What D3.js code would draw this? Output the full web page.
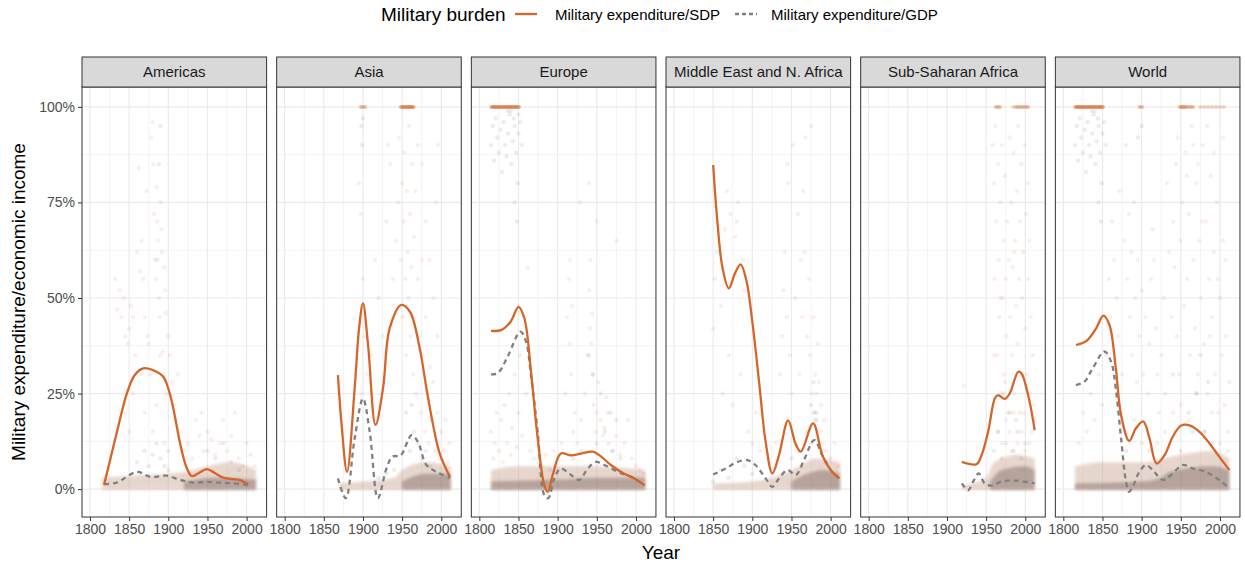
<!DOCTYPE html>
<html><head><meta charset="utf-8">
<script src="https://cdn.jsdelivr.net/npm/d3@7"></script>
<style>body{margin:0;background:#fff}svg{display:block;font-family:"Liberation Sans",Arial,sans-serif}</style>
</head><body><svg id="c" width="1245" height="565"></svg>
<script>
// ---------- data ----------
const panelNames = ["Americas","Asia","Europe","Middle East and N. Africa","Sub-Saharan Africa","World"];
const xTicks = [1800,1850,1900,1950,2000];
const xMinor = [1825,1875,1925,1975];
const yTicks = [0,0.25,0.5,0.75,1];
const yTickLabels = ["0%","25%","50%","75%","100%"];
const yMinor = [0.125,0.375,0.625,0.875];
const seriesNames = ["Military expenditure/SDP","Military expenditure/GDP"];

// smoothed lines [year, share]
const sdpAmericas = [[1818,0.011],[1834,0.146],[1847,0.25],[1857,0.298],[1868,0.316],[1885,0.307],[1893.6,0.294],[1900,0.263],[1906,0.215],[1915,0.12],[1923,0.058],[1930,0.034],[1938,0.041],[1949,0.052],[1957,0.045],[1970,0.03],[1983,0.026],[1991.5,0.0236],[2002,0.013]];
const gdpAmericas = [[1818,0.013],[1834,0.017],[1860,0.045],[1877,0.032],[1898,0.035],[1915,0.024],[1932,0.017],[1949,0.019],[1966,0.017],[1983,0.015],[2002,0.0105]];
const sdpAsia = [[1868,0.298],[1872.4,0.176],[1879.6,0.045],[1889.4,0.264],[1895,0.42],[1900,0.486],[1906.5,0.377],[1916,0.168],[1925.6,0.264],[1934,0.42],[1949,0.482],[1960,0.464],[1972.5,0.368],[1981,0.264],[1989.5,0.168],[1998,0.093],[2011,0.032]];
const gdpAsia = [[1868,0.028],[1878,-0.024],[1889.4,0.133],[1900,0.237],[1908.6,0.15],[1919,-0.024],[1930,0.054],[1937.6,0.085],[1948,0.088],[1962,0.141],[1970,0.124],[1981,0.063],[1994,0.045],[2011,0.028]];
const sdpEurope = [[1815,0.414],[1827.7,0.416],[1840,0.438],[1850,0.477],[1857.5,0.447],[1866,0.307],[1874.5,0.133],[1883,0.01],[1887.3,-0.007],[1893.7,0.037],[1904,0.093],[1917,0.088],[1930,0.093],[1945,0.098],[1955.5,0.085],[1968,0.063],[1985,0.04],[1998,0.028],[2011,0.01]];
const gdpEurope = [[1815,0.30],[1823.4,0.303],[1836,0.346],[1852.4,0.412],[1859.6,0.386],[1866,0.297],[1874.5,0.15],[1883,-0.016],[1888,-0.024],[1895.8,0.028],[1904,0.054],[1917,0.037],[1927.8,0.024],[1938.4,0.054],[1949,0.071],[1959.7,0.063],[1976.7,0.045],[1993.8,0.032],[2011,0.01]];
const sdpMENA = [[1850,0.848],[1855.4,0.70],[1862,0.578],[1870,0.525],[1878,0.565],[1885,0.588],[1892.5,0.545],[1900,0.438],[1908.6,0.281],[1917,0.124],[1925.6,0.041],[1934,0.088],[1945.7,0.18],[1955.5,0.117],[1962,0.098],[1977.6,0.172],[1989.5,0.088],[2000,0.05],[2011,0.028]];
const gdpMENA = [[1850,0.038],[1866,0.054],[1881,0.071],[1893.7,0.076],[1904,0.063],[1917,0.028],[1925.6,0.006],[1934,0.028],[1945,0.05],[1955.5,0.037],[1966,0.076],[1979,0.128],[1989.5,0.088],[2002,0.045],[2011,0.028]];
const sdpSSA = [[1919,0.071],[1937.6,0.065],[1944,0.088],[1952.5,0.15],[1961,0.237],[1965,0.246],[1973.8,0.236],[1980,0.25],[1991,0.307],[1995,0.303],[2003.6,0.246],[2012,0.154]];
const gdpSSA = [[1919,0.015],[1927,-0.003],[1934.6,0.024],[1940.5,0.041],[1948,0.015],[1956.7,0.009],[1969.5,0.02],[1986.5,0.022],[2012,0.015]];
const sdpWorld = [[1816,0.377],[1829,0.387],[1841.7,0.42],[1851,0.454],[1858.8,0.43],[1867,0.316],[1873.7,0.194],[1884,0.126],[1892.7,0.159],[1902,0.177],[1910,0.133],[1919,0.067],[1929,0.088],[1939.7,0.137],[1950,0.166],[1961,0.167],[1973.8,0.15],[1986.5,0.12],[1999,0.085],[2012,0.05]];
const gdpWorld = [[1816,0.272],[1827,0.281],[1837.5,0.316],[1852.4,0.36],[1861,0.333],[1867,0.262],[1873.7,0.133],[1880,0.02],[1884,-0.007],[1888.6,0.006],[1897,0.045],[1905.6,0.063],[1914,0.05],[1927,0.024],[1937.6,0.037],[1952.5,0.063],[1965,0.054],[1982,0.045],[1999,0.024],[2012,0.002]];

// years whose observed SDP share is capped at 100%
const capEurope = [1815,1816,1817,1818,1819,1820,1821,1822,1823,1824,1825,1826,1827,1828,1829,1830,1831,1832,1833,1834,1835,1836,1837,1838,1839,1840,1841,1842,1843,1844,1845,1846,1847,1848,1849,1850,1851];
const capWorld = [1815,1816,1817,1818,1819,1820,1821,1822,1823,1824,1825,1826,1827,1828,1829,1830,1831,1832,1833,1834,1835,1836,1837,1838,1839,1840,1841,1842,1843,1844,1845,1846,1847,1848,1849,1850,1851,1897,1899,1901,1948,1950,1951,1952,1954,1955,1956,1958,1960,1962,1964,1966,1975,1980,1985,1990,1995,2000,2005];
const capAsia = [1897,1899,1901,1903,1948,1949,1950,1951,1952,1953,1954,1955,1956,1957,1958,1959,1960,1961,1962,1963,1964,1965];
const capSSA = [1962,1964,1966,1968,1985,1988,1990,1992,1994,1996,1998,2000,2002,2004];
const capNone = [];

// observation clouds (sparse, read approximately) [year, share]
const obsSdpAmericas = [[1832,0.55],[1835,0.47],[1838,0.52],[1840,0.45],[1843,0.5],[1845,0.4],[1848,0.38],[1850,0.42],[1852,0.48],[1855,0.45],[1858,0.35],[1860,0.62],[1862,0.84],[1864,0.57],[1866,0.65],[1868,0.55],[1870,0.45],[1872,0.78],[1874,0.4],[1875,0.38],[1877,0.3],[1878,0.92],[1880,0.96],[1881,0.85],[1882,0.72],[1883,0.6],[1884,0.55],[1885,0.79],[1886,0.7],[1887,0.65],[1888,0.5],[1889,0.45],[1890,0.75],[1891,0.68],[1892,0.62],[1893,0.36],[1894,0.3],[1895,0.58],[1896,0.52],[1897,0.46],[1898,0.25],[1900,0.4],[1902,0.35],[1905,0.28],[1908,0.22],[1910,0.18],[1912,0.3],[1915,0.15],[1920,0.1],[1925,0.12],[1930,0.08],[1935,0.18],[1940,0.14],[1942,0.2],[1945,0.1],[1950,0.15],[1955,0.13],[1960,0.09],[1965,0.12],[1970,0.18],[1975,0.1],[1980,0.14],[1985,0.2],[1990,0.08],[1995,0.06],[2000,0.12],[2005,0.09],[2010,0.06],[1845,0.2],[1850,0.15],[1855,0.25],[1865,0.3],[1870,0.2],[1880,0.15],[1885,0.22],[1890,0.35],[1895,0.12],[1900,0.1]];
const obsGdpAmericas = [[1860,0.07],[1870,0.1],[1875,0.06],[1880,0.09],[1885,0.12],[1890,0.08],[1895,0.06],[1900,0.05],[1950,0.1],[1960,0.08],[1970,0.12],[1980,0.07],[1990,0.05],[1888,0.85],[1890,0.95],[1886,0.6]];
const obsSdpAsia = [[1895,0.8],[1897,0.72],[1898,0.25],[1900,0.55],[1902,0.4],[1905,0.3],[1910,0.35],[1915,0.6],[1920,0.5],[1925,0.4],[1930,0.7],[1932,0.9],[1935,0.85],[1938,0.55],[1940,0.48],[1942,0.65],[1945,0.75],[1946,0.92],[1948,0.6],[1950,0.8],[1951,0.45],[1952,0.7],[1953,0.88],[1954,0.55],[1955,0.35],[1956,0.78],[1957,0.62],[1958,0.5],[1959,0.95],[1960,0.72],[1961,0.4],[1962,0.58],[1963,0.85],[1964,0.3],[1965,0.66],[1966,0.45],[1967,0.78],[1968,0.25],[1970,0.55],[1972,0.4],[1974,0.2],[1975,0.6],[1977,0.35],[1979,0.15],[1980,0.45],[1982,0.25],[1984,0.12],[1985,0.32],[1988,0.18],[1990,0.28],[1992,0.1],[1995,0.2],[1998,0.08],[2000,0.15],[2003,0.1],[2005,0.18],[2008,0.07],[2010,0.12],[1970,0.9],[1975,0.85],[1980,0.7],[1985,0.6],[1990,0.5],[1995,0.4],[1996,0.9],[1993,0.75]];
const obsGdpAsia = [[1898,0.95],[1899,0.9],[1900,0.97],[1960,0.1],[1965,0.15],[1970,0.12],[1975,0.08],[1980,0.1],[1985,0.06],[1955,0.2],[1962,0.22],[1940,0.05],[1930,0.04],[1920,0.03]];
const obsSdpEurope = [[1815,0.15],[1818,0.08],[1820,0.12],[1822,0.2],[1825,0.1],[1828,0.18],[1830,0.07],[1832,0.22],[1835,0.12],[1838,0.25],[1840,0.09],[1842,0.16],[1845,0.3],[1848,0.11],[1850,0.2],[1852,0.35],[1855,0.14],[1858,0.45],[1860,0.25],[1862,0.58],[1865,0.1],[1870,0.08],[1875,0.12],[1880,0.06],[1885,0.09],[1890,0.05],[1895,0.1],[1900,0.08],[1905,0.12],[1910,0.25],[1912,0.45],[1914,0.55],[1915,0.38],[1916,0.6],[1917,0.3],[1918,0.48],[1920,0.15],[1922,0.2],[1925,0.12],[1930,0.18],[1935,0.25],[1938,0.35],[1940,0.52],[1941,0.42],[1942,0.6],[1943,0.38],[1944,0.46],[1945,0.3],[1946,0.22],[1948,0.15],[1950,0.2],[1952,0.28],[1955,0.18],[1958,0.14],[1960,0.16],[1962,0.24],[1965,0.12],[1968,0.2],[1970,0.1],[1975,0.14],[1980,0.09],[1985,0.12],[1990,0.18],[1995,0.08],[2000,0.06],[2005,0.05],[2010,0.04],[1940,0.8],[1928,0.75],[1975,0.65],[1950,0.7]];
const obsGdpEurope = [[1815,0.9],[1817,0.95],[1819,0.86],[1821,0.97],[1823,0.92],[1825,0.88],[1827,0.94],[1829,0.83],[1831,0.96],[1833,0.9],[1835,0.87],[1837,0.93],[1839,0.98],[1841,0.85],[1843,0.91],[1845,0.95],[1847,0.88],[1849,0.8],[1850,0.93],[1852,0.96],[1854,0.9],[1845,0.75],[1848,0.7],[1840,0.99],[1844,0.97],[1836,0.99],[1850,0.98],[1940,0.35],[1950,0.12],[1960,0.15],[1970,0.1],[1980,0.08],[1965,0.2],[1955,0.25],[1975,0.18],[1945,0.3],[1930,0.1],[1920,0.08]];
const obsSdpMENA = [[1850,0.42],[1852,0.55],[1855,0.62],[1860,0.48],[1862,0.25],[1865,0.68],[1868,0.78],[1870,0.35],[1872,0.72],[1875,0.22],[1878,0.66],[1880,0.7],[1882,0.75],[1885,0.3],[1888,0.6],[1890,0.52],[1895,0.15],[1900,0.12],[1905,0.2],[1910,0.1],[1920,0.08],[1930,0.12],[1935,0.3],[1938,0.4],[1940,0.52],[1942,0.62],[1944,0.45],[1945,0.85],[1946,0.8],[1948,0.35],[1950,0.25],[1952,0.9],[1955,0.5],[1958,0.72],[1960,0.3],[1962,0.6],[1964,0.45],[1965,0.78],[1967,0.62],[1968,0.92],[1970,0.4],[1972,0.55],[1974,0.35],[1975,0.95],[1976,0.25],[1978,0.45],[1980,0.3],[1982,0.2],[1984,0.38],[1985,0.28],[1987,0.15],[1988,0.22],[1990,0.12],[1992,0.18],[1995,0.1],[2000,0.08],[2005,0.12],[2010,0.06],[1978,0.2],[1980,0.18],[1982,0.25]];
const obsGdpMENA = [[1850,0.02],[1860,0.05],[1870,0.03],[1880,0.08],[1890,0.06],[1900,0.04],[1950,0.08],[1960,0.1],[1970,0.15],[1975,0.22],[1978,0.28],[1980,0.2],[1982,0.18],[1985,0.12],[1990,0.1],[1976,0.12]];
const obsSdpSSA = [[1958,0.9],[1960,0.8],[1961,0.55],[1962,0.95],[1963,0.7],[1964,0.35],[1965,0.85],[1966,0.6],[1967,0.45],[1968,0.75],[1969,0.25],[1970,0.9],[1971,0.5],[1972,0.65],[1973,0.3],[1974,0.82],[1975,0.55],[1976,0.4],[1977,0.7],[1978,0.2],[1979,0.6],[1980,0.92],[1981,0.45],[1982,0.75],[1983,0.35],[1984,0.58],[1985,0.88],[1986,0.25],[1987,0.65],[1988,0.48],[1989,0.78],[1990,0.38],[1991,0.95],[1992,0.55],[1993,0.7],[1994,0.3],[1995,0.85],[1996,0.5],[1997,0.62],[1998,0.2],[1999,0.9],[2000,0.42],[2001,0.72],[2002,0.3],[2003,0.8],[2004,0.55],[2005,0.65],[2006,0.25],[2007,0.45],[2008,0.15],[2009,0.35],[2010,0.22],[2012,0.18],[1965,0.15],[1970,0.12],[1975,0.18],[1980,0.15],[1985,0.2],[1990,0.12],[1995,0.15],[2000,0.1],[2005,0.12],[1960,0.35],[1968,0.5],[1974,0.28],[1983,0.1],[1993,0.2],[1997,0.05],[1986,0.62],[1922,0.27]];
const obsGdpSSA = [[1960,0.1],[1965,0.15],[1970,0.08],[1975,0.12],[1980,0.2],[1985,0.1],[1990,0.15],[1995,0.08],[2000,0.12],[1972,0.25],[1988,0.18]];
const obsSdpWorld = [[1820,0.12],[1825,0.2],[1830,0.15],[1835,0.25],[1840,0.18],[1845,0.3],[1850,0.22],[1855,0.35],[1858,0.55],[1860,0.45],[1862,0.7],[1865,0.6],[1868,0.5],[1870,0.4],[1872,0.78],[1875,0.3],[1878,0.65],[1880,0.9],[1882,0.55],[1884,0.72],[1885,0.45],[1887,0.62],[1888,0.35],[1890,0.75],[1892,0.5],[1894,0.28],[1895,0.6],[1897,0.4],[1900,0.52],[1902,0.3],[1905,0.45],[1908,0.25],[1910,0.38],[1912,0.55],[1914,0.68],[1916,0.6],[1918,0.42],[1920,0.3],[1922,0.2],[1925,0.35],[1928,0.5],[1930,0.25],[1932,0.8],[1935,0.62],[1938,0.45],[1940,0.7],[1942,0.58],[1944,0.85],[1945,0.4],[1946,0.92],[1948,0.3],[1950,0.65],[1952,0.75],[1954,0.48],[1956,0.88],[1958,0.55],[1960,0.72],[1962,0.35],[1964,0.95],[1966,0.6],[1968,0.42],[1970,0.8],[1972,0.3],[1974,0.65],[1976,0.5],[1978,0.9],[1980,0.38],[1982,0.7],[1984,0.25],[1986,0.55],[1988,0.82],[1990,0.45],[1992,0.62],[1994,0.3],[1996,0.75],[1998,0.2],[2000,0.5],[2002,0.35],[2004,0.65],[2006,0.22],[2008,0.4],[2010,0.15],[2012,0.28],[1880,0.15],[1900,0.12],[1920,0.12],[1940,0.2],[1960,0.18],[1980,0.15],[2000,0.12],[1870,0.2],[1890,0.18],[1910,0.1],[1930,0.15],[1950,0.22],[1970,0.25],[1990,0.2],[2010,0.1],[1966,0.9],[1972,0.85],[1984,0.95],[1992,0.88],[2004,0.92],[1958,0.82],[1977,0.7],[1987,0.4],[1997,0.55],[2007,0.6]];
const obsGdpWorld = [[1815,0.9],[1817,0.95],[1819,0.86],[1821,0.97],[1823,0.92],[1825,0.88],[1827,0.94],[1829,0.83],[1831,0.96],[1833,0.9],[1835,0.87],[1837,0.93],[1839,0.98],[1841,0.85],[1843,0.91],[1845,0.95],[1847,0.88],[1849,0.8],[1850,0.93],[1852,0.96],[1854,0.9],[1845,0.75],[1848,0.7],[1840,0.99],[1844,0.97],[1836,0.99],[1895,0.92],[1900,0.95],[1940,0.3],[1960,0.2],[1970,0.25],[1975,0.35],[1980,0.15],[1985,0.28],[1990,0.12],[1965,0.15],[1950,0.1],[1880,0.1]];

// dense low-value cloud outline [year, upper share]
const bandAmericas = [[1815,0.03],[1850,0.035],[1900,0.04],[1920,0.045],[1950,0.06],[1980,0.07],[2012,0.05]];
const coreAmericas = [[1920,0.02],[1960,0.03],[2012,0.025]];
const bandAsia = [[1870,0.015],[1900,0.02],[1940,0.03],[1950,0.05],[1980,0.07],[2012,0.06]];
const coreAsia = [[1950,0.02],[1980,0.04],[2012,0.04]];
const bandEurope = [[1815,0.05],[1850,0.06],[1900,0.06],[1950,0.06],[2012,0.05]];
const coreEurope = [[1815,0.02],[1900,0.025],[1950,0.03],[2012,0.03]];
const bandMENA = [[1850,0.015],[1900,0.02],[1940,0.04],[1960,0.06],[1980,0.08],[2012,0.07]];
const coreMENA = [[1950,0.02],[1970,0.04],[1990,0.05],[2012,0.04]];
const bandSSA = [[1920,0.01],[1950,0.03],[1960,0.07],[1990,0.09],[2012,0.08]];
const coreSSA = [[1955,0.02],[1970,0.05],[2000,0.06],[2012,0.05]];
const bandWorld = [[1815,0.06],[1850,0.07],[1900,0.07],[1950,0.09],[1990,0.1],[2012,0.08]];
const coreWorld = [[1815,0.015],[1900,0.02],[1925,0.03],[1935,0.045],[1990,0.06],[2012,0.05]];

// ---------- layout ----------
(function(){
const panels = [
  {name:panelNames[0], sdp:sdpAmericas, gdp:gdpAmericas, oS:obsSdpAmericas, oG:obsGdpAmericas, cap:capNone, band:bandAmericas, core:coreAmericas},
  {name:panelNames[1], sdp:sdpAsia, gdp:gdpAsia, oS:obsSdpAsia, oG:obsGdpAsia, cap:capAsia, band:bandAsia, core:coreAsia},
  {name:panelNames[2], sdp:sdpEurope, gdp:gdpEurope, oS:obsSdpEurope, oG:obsGdpEurope, cap:capEurope, band:bandEurope, core:coreEurope},
  {name:panelNames[3], sdp:sdpMENA, gdp:gdpMENA, oS:obsSdpMENA, oG:obsGdpMENA, cap:capNone, band:bandMENA, core:coreMENA},
  {name:panelNames[4], sdp:sdpSSA, gdp:gdpSSA, oS:obsSdpSSA, oG:obsGdpSSA, cap:capSSA, band:bandSSA, core:coreSSA},
  {name:panelNames[5], sdp:sdpWorld, gdp:gdpWorld, oS:obsSdpWorld, oG:obsGdpWorld, cap:capWorld, band:bandWorld, core:coreWorld}
];
const ORANGE = "#D5652A", GREY = "#808080";
const left0 = 82, step = 194.67, pw = 184.6, pTop = 87, pBottom = 517, stripTop = 57;
const svg = d3.select("#c");
const y = d3.scaleLinear().domain([-0.073,1.052]).range([pBottom, pTop]);
const defs = svg.append("defs");
const f = defs.append("filter").attr("id","soft").attr("x","-10%").attr("y","-100%").attr("width","120%").attr("height","300%");
f.append("feGaussianBlur").attr("stdDeviation",1.8);

panels.forEach((p,i)=>{
  const x0 = left0 + i*step;
  const x = d3.scaleLinear().domain([1789.8,2025.5]).range([x0, x0+pw]);
  const g = svg.append("g");
  defs.append("clipPath").attr("id","cp"+i).append("rect").attr("x",x0).attr("y",pTop).attr("width",pw).attr("height",pBottom-pTop);
  g.selectAll(".mnx").data(xMinor).join("line").attr("x1",d=>x(d)).attr("x2",d=>x(d)).attr("y1",pTop).attr("y2",pBottom).attr("stroke","#EBEBEB").attr("stroke-width",0.6);
  g.selectAll(".mny").data(yMinor).join("line").attr("x1",x0).attr("x2",x0+pw).attr("y1",d=>y(d)).attr("y2",d=>y(d)).attr("stroke","#EBEBEB").attr("stroke-width",0.6);
  g.selectAll(".mjx").data(xTicks).join("line").attr("x1",d=>x(d)).attr("x2",d=>x(d)).attr("y1",pTop).attr("y2",pBottom).attr("stroke","#EBEBEB").attr("stroke-width",1.2);
  g.selectAll(".mjy").data(yTicks).join("line").attr("x1",x0).attr("x2",x0+pw).attr("y1",d=>y(d)).attr("y2",d=>y(d)).attr("stroke","#EBEBEB").attr("stroke-width",1.2);

  const inner = g.append("g").attr("clip-path",`url(#cp${i})`);
  const area = d3.area().x(d=>x(d[0])).y0(y(-0.002)).y1(d=>y(d[1])).curve(d3.curveMonotoneX);
  inner.append("path").datum(p.band).attr("d",area).attr("fill","#C39A84").attr("opacity",0.4).attr("filter","url(#soft)");
  inner.append("path").datum(p.core).attr("d",area).attr("fill","#7D6661").attr("opacity",0.45).attr("filter","url(#soft)");
  inner.selectAll(".pg").data(p.oG).join("circle").attr("cx",d=>x(d[0])).attr("cy",d=>y(d[1])).attr("r",2.2).attr("fill",GREY).attr("opacity",0.14);
  inner.selectAll(".po").data(p.oS).join("circle").attr("cx",d=>x(d[0])).attr("cy",d=>y(d[1])).attr("r",2.2).attr("fill",ORANGE).attr("opacity",0.1);
  inner.selectAll(".pc").data(p.cap).join("circle").attr("cx",d=>x(d)).attr("cy",y(1)).attr("r",2).attr("fill",ORANGE).attr("opacity",0.28);
  const line = d3.line().x(d=>x(d[0])).y(d=>y(d[1])).curve(d3.curveCatmullRom.alpha(0.5));
  inner.append("path").datum(p.gdp).attr("d",line).attr("fill","none").attr("stroke",GREY).attr("stroke-width",2.3).attr("stroke-dasharray","5,4");
  inner.append("path").datum(p.sdp).attr("d",line).attr("fill","none").attr("stroke",ORANGE).attr("stroke-width",2.3);
  g.append("rect").attr("x",x0).attr("y",pTop).attr("width",pw).attr("height",pBottom-pTop).attr("fill","none").attr("stroke","#333333").attr("stroke-width",1);
  g.append("rect").attr("x",x0).attr("y",stripTop).attr("width",pw).attr("height",pTop-stripTop).attr("fill","#D9D9D9").attr("stroke","#333333").attr("stroke-width",1);
  g.append("text").attr("x",x0+pw/2).attr("y",(stripTop+pTop)/2+5.3).attr("text-anchor","middle").attr("font-size",15).attr("fill","#1A1A1A").text(p.name);
  const ax = g.append("g").attr("transform",`translate(0,${pBottom})`).call(d3.axisBottom(x).tickValues(xTicks).tickFormat(d3.format("d")).tickSize(4).tickPadding(3));
  ax.select(".domain").remove();
  ax.selectAll("line").attr("stroke","#333333");
  ax.selectAll("text").attr("font-size",14).attr("fill","#4D4D4D").attr("font-family","Liberation Sans, Arial, sans-serif");
  if(i===0){
    const ay = g.append("g").attr("transform",`translate(${x0},0)`).call(d3.axisLeft(y).tickValues(yTicks).tickFormat((d,j)=>yTickLabels[j]).tickSize(4).tickPadding(3));
    ay.select(".domain").remove();
    ay.selectAll("line").attr("stroke","#333333");
    ay.selectAll("text").attr("font-size",14).attr("fill","#4D4D4D").attr("font-family","Liberation Sans, Arial, sans-serif");
  }
});

svg.append("text").attr("x",(left0+left0+5*step+pw)/2).attr("y",559).attr("text-anchor","middle").attr("font-size",19).attr("fill","#000").text("Year");
svg.append("text").attr("transform",`translate(25,${(pTop+pBottom)/2}) rotate(-90)`).attr("text-anchor","middle").attr("font-size",19).attr("fill","#000").text("Military expenditure/economic income");

const lg = svg.append("g");
lg.append("text").attr("x",381).attr("y",21).attr("font-size",19).attr("fill","#000").text("Military burden");
const keyX = [515, 735], textX = [555, 771];
seriesNames.forEach((s,k)=>{
  lg.append("line").attr("x1",keyX[k]).attr("x2",keyX[k]+22).attr("y1",14).attr("y2",14)
    .attr("stroke",k===0?ORANGE:GREY).attr("stroke-width",2.3).attr("stroke-dasharray",k===0?null:"4,3");
  lg.append("text").attr("x",textX[k]).attr("y",19.5).attr("font-size",15).attr("fill","#000").text(s);
});
})();
</script>
</body></html>
